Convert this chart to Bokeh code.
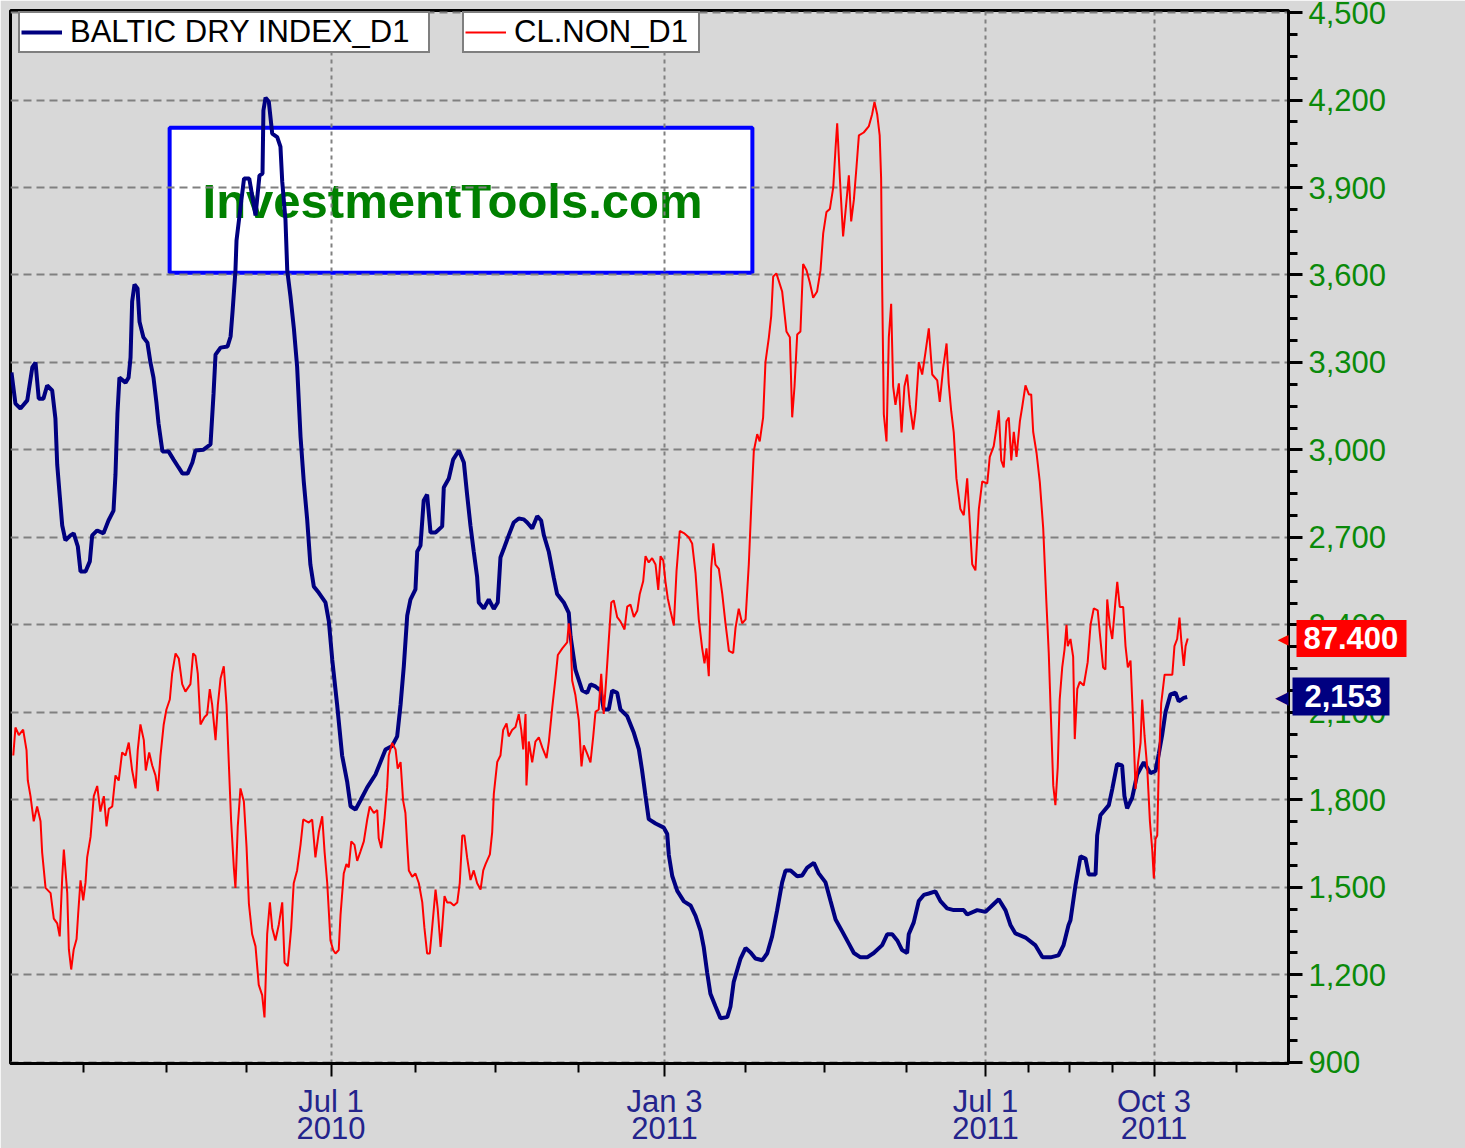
import pandas as pd
from bokeh.plotting import figure
from bokeh.models import (Range1d, FixedTicker, Label, Legend, LegendItem, LinearAxis,
                          NumeralTickFormatter)
from bokeh.core.properties import value
from bokeh.embed import file_html
from bokeh.resources import INLINE

EPOCH = pd.Timestamp("2010-01-01")   # day numbers below count from this date

# ---- Baltic Dry Index (days since 2010-01-01, index points)
bdi_day = [
    2.8, 5.0, 7.8, 11.6, 14.4, 16.2, 18.0, 20.6, 22.7, 25.5,
    27.3, 28.3, 29.7, 31.1, 32.9, 35.7, 37.5, 39.8, 41.3, 44.1,
    46.5, 47.8, 50.6, 54.1, 56.9, 59.7, 60.8, 61.9, 63.0, 66.4,
    68.1, 69.2, 70.1, 71.4, 73.1, 74.2, 76.4, 78.6, 80.3, 82.0,
    83.7, 84.8, 87.0, 90.4, 93.2, 96.0, 98.2, 101.0, 103.7, 105.4,
    109.9, 113.8, 115.5, 116.6, 119.4, 123.3, 125.0, 126.1, 127.7, 128.3,
    130.5, 132.5, 135.4, 138.9, 141.1, 142.8, 143.3, 144.5, 146.3, 148.2,
    151.0, 152.8, 153.8, 155.6, 156.6, 158.4, 160.3, 162.1, 164.0, 165.8,
    167.7, 169.5, 171.4, 174.2, 177.9, 179.8, 181.7, 184.4, 187.2, 190.0,
    191.9, 194.7, 197.4, 201.2, 205.8, 208.6, 211.4, 215.1, 217.9, 219.8,
    221.6, 223.5, 225.3, 228.1, 229.1, 230.9, 232.7, 234.6, 236.5, 239.3,
    243.0, 243.9, 246.7, 249.1, 252.3, 255.1, 256.9, 258.8, 260.6, 262.5,
    263.4, 266.2, 269.0, 271.8, 274.0, 275.5, 277.4, 280.1, 282.9, 285.7,
    288.5, 290.4, 293.2, 296.0, 298.2, 299.7, 302.5, 305.2, 307.1, 310.8,
    313.6, 314.6, 317.3, 321.1, 323.9, 325.7, 328.5, 331.3, 333.1, 335.9,
    337.8, 340.6, 342.4, 346.2, 349.9, 352.7, 354.5, 356.4, 358.2, 362.0,
    366.6, 368.5, 369.4, 371.3, 374.1, 377.8, 381.5, 384.3, 387.1, 388.9,
    390.8, 392.6, 395.4, 398.2, 402.0, 403.8, 405.6, 409.4, 412.2, 415.0,
    417.7, 421.5, 424.3, 427.0, 429.8, 432.6, 434.5, 437.3, 441.0, 443.8,
    446.6, 450.3, 453.0, 456.8, 459.6, 462.4, 466.1, 469.8, 472.6, 476.3,
    480.0, 483.7, 488.4, 491.2, 494.0, 496.8, 499.5, 502.3, 503.2, 506.0,
    508.8, 511.6, 514.4, 518.1, 520.9, 524.6, 528.3, 533.9, 535.8, 541.4,
    546.0, 550.6, 553.4, 557.2, 560.0, 562.7, 568.3, 573.9, 577.8, 582.3,
    586.7, 589.5, 592.3, 593.4, 596.2, 599.0, 601.8, 603.6, 607.4, 608.3,
    610.1, 614.8, 616.7, 619.4, 622.2, 623.5, 625.0, 627.8, 630.6, 634.3,
    638.0, 640.8, 642.7, 644.5, 646.4, 649.2, 652.0, 653.8, 656.6, 658.5,
]
bdi_value = [
    3266, 3159, 3142, 3170, 3283, 3300, 3176, 3176, 3221, 3204,
    3108, 2950, 2844, 2741, 2690, 2707, 2714, 2669, 2583, 2583,
    2618, 2707, 2724, 2714, 2758, 2792, 2916, 3125, 3248, 3231,
    3248, 3317, 3509, 3567, 3554, 3440, 3386, 3368, 3300, 3248,
    3159, 3091, 2995, 2995, 2967, 2940, 2919, 2919, 2957, 2998,
    3001, 3019, 3194, 3327, 3351, 3355, 3389, 3475, 3615, 3718,
    3831, 3931, 3931, 3804, 3941, 3948, 4164, 4208, 4195, 4085,
    4073, 4040, 3920, 3790, 3615, 3526, 3416, 3286, 3046, 2892,
    2762, 2607, 2532, 2510, 2477, 2412, 2280, 2127, 1952, 1863,
    1778, 1767, 1798, 1843, 1887, 1930, 1973, 1985, 2018, 2127,
    2258, 2432, 2487, 2522, 2652, 2672, 2827, 2847, 2717, 2717,
    2738, 2871, 2902, 2967, 2998, 2957, 2847, 2739, 2652, 2564,
    2477, 2456, 2487, 2455, 2477, 2631, 2662, 2707, 2751, 2765,
    2762, 2751, 2731, 2773, 2758, 2708, 2650, 2563, 2506, 2477,
    2441, 2361, 2247, 2175, 2167, 2196, 2189, 2175, 2110, 2110,
    2175, 2167, 2110, 2087, 2030, 1973, 1901, 1813, 1734, 1719,
    1705, 1683, 1611, 1539, 1488, 1452, 1438, 1402, 1351, 1294,
    1207, 1135, 1092, 1051, 1055, 1092, 1176, 1256, 1292, 1277,
    1256, 1250, 1274, 1332, 1421, 1517, 1558, 1558, 1538, 1541,
    1568, 1584, 1548, 1517, 1453, 1390, 1349, 1307, 1275, 1260,
    1260, 1275, 1302, 1339, 1339, 1318, 1285, 1275, 1339, 1380,
    1453, 1474, 1479, 1486, 1453, 1428, 1422, 1422, 1407, 1422,
    1416, 1443, 1459, 1421, 1370, 1342, 1328, 1301, 1260, 1260,
    1267, 1301, 1370, 1387, 1507, 1606, 1599, 1544, 1544, 1678,
    1747, 1782, 1837, 1923, 1918, 1813, 1771, 1807, 1887, 1929,
    1892, 1899, 1959, 2021, 2101, 2162, 2168, 2138, 2150, 2153,
]

# ---- Crude oil CL.NON (days since 2010-01-01, USD per barrel)
oil_day = [
    3.8, 5.0, 6.9, 9.3, 11.2, 11.9, 13.4, 15.2, 17.1, 19.0,
    19.9, 21.8, 24.6, 26.4, 28.3, 29.7, 31.1, 32.0, 33.9, 34.8,
    36.1, 37.5, 39.1, 40.0, 41.3, 42.8, 44.1, 45.0, 46.9, 48.7,
    50.6, 52.4, 54.3, 55.8, 57.1, 59.0, 60.8, 62.6, 64.5, 66.4,
    68.2, 70.1, 72.0, 73.2, 74.7, 76.6, 77.7, 79.6, 81.3, 83.1,
    84.4, 85.9, 87.7, 89.2, 91.1, 92.4, 94.3, 96.1, 98.0, 99.8,
    102.6, 104.1, 105.4, 106.7, 108.2, 110.4, 111.9, 113.4, 114.7, 116.6,
    117.9, 119.4, 121.2, 122.7, 124.0, 125.3, 126.8, 127.7, 129.0, 130.5,
    132.4, 133.9, 135.2, 137.0, 138.9, 140.7, 142.6, 143.9, 145.4, 146.9,
    148.2, 150.0, 151.9, 153.8, 155.1, 156.9, 158.8, 160.2, 162.1, 164.0,
    165.5, 168.6, 170.5, 172.3, 174.2, 176.1, 177.4, 178.9, 180.7, 182.2,
    183.5, 185.3, 186.3, 188.1, 189.6, 190.9, 192.3, 194.1, 195.6, 197.4,
    199.3, 201.2, 202.6, 204.9, 206.8, 207.6, 209.0, 210.8, 212.3, 213.2,
    215.1, 217.0, 218.2, 219.8, 221.2, 222.5, 223.5, 224.4, 226.3, 228.1,
    230.0, 231.9, 233.1, 234.6, 236.1, 237.4, 239.3, 240.5, 242.1, 243.0,
    244.3, 245.8, 247.6, 249.5, 251.4, 252.8, 254.2, 255.4, 256.9, 258.8,
    260.6, 262.5, 264.4, 265.9, 267.2, 269.6, 270.9, 271.8, 273.7, 275.5,
    277.0, 278.9, 280.1, 282.0, 283.9, 285.7, 287.1, 288.2, 289.5, 290.0,
    291.3, 293.2, 295.0, 296.9, 298.8, 301.2, 302.5, 304.4, 306.2, 307.5,
    310.0, 312.7, 313.6, 314.6, 315.5, 317.3, 319.2, 320.7, 322.0, 323.9,
    325.7, 327.2, 328.5, 330.3, 331.7, 333.1, 334.6, 335.9, 337.3, 338.7,
    340.6, 342.4, 344.7, 346.2, 348.0, 349.9, 351.8, 353.2, 355.1, 356.4,
    358.2, 360.1, 362.0, 363.5, 364.8, 366.3, 367.5, 368.8, 370.3, 372.2,
    373.7, 375.5, 377.8, 380.5, 382.4, 384.3, 386.1, 388.0, 389.3, 390.4,
    391.7, 393.0, 394.2, 395.4, 397.3, 399.2, 401.0, 402.9, 405.3, 406.6,
    408.4, 410.3, 412.2, 414.0, 415.5, 416.8, 418.7, 420.1, 422.0, 423.3,
    425.2, 426.5, 427.6, 429.4, 432.6, 435.0, 436.9, 438.2, 439.5, 441.0,
    442.8, 444.3, 446.2, 448.0, 449.9, 452.1, 454.0, 455.5, 457.3, 459.2,
    461.1, 462.4, 463.3, 464.8, 466.6, 467.9, 469.8, 471.1, 472.6, 474.1,
    475.4, 478.1, 480.9, 482.8, 484.1, 485.6, 487.0, 487.8, 488.4, 489.3,
    490.8, 492.1, 493.4, 494.5, 495.8, 497.7, 499.2, 500.8, 502.3, 503.8,
    505.7, 507.0, 508.8, 510.7, 512.5, 514.4, 516.3, 519.1, 520.5, 522.4,
    524.3, 525.5, 526.9, 528.3, 529.8, 532.0, 533.9, 535.8, 537.2, 538.6,
    540.4, 542.3, 544.2, 547.0, 548.4, 550.6, 552.1, 553.4, 554.8, 556.2,
    557.7, 559.0, 560.4, 561.8, 563.3, 565.2, 566.5, 568.3, 570.2, 571.5,
    572.6, 574.5, 576.3, 578.2, 580.0, 581.3, 582.3, 583.8, 585.0, 586.3,
    587.4, 588.8, 590.1, 591.2, 591.9, 593.4, 594.9, 595.8, 597.2, 598.6,
    600.8, 603.0, 604.6, 606.4, 608.6, 609.7, 611.6, 612.9, 613.9, 615.3,
    616.7, 618.5, 619.5, 620.9, 622.8, 624.1, 625.4, 626.9, 628.4, 629.7,
    631.0, 632.5, 633.4, 634.7, 636.2, 637.7, 639.0, 639.9, 640.8, 641.8,
    642.7, 644.0, 645.9, 647.7, 650.2, 651.4, 652.9, 654.2, 655.3, 656.6,
    657.6, 658.8,
]
oil_value = [
    81.63, 83.01, 82.64, 82.91, 81.88, 80.40, 79.63, 78.39, 79.12, 78.39,
    76.86, 75.11, 74.85, 73.60, 73.36, 72.72, 75.63, 77.00, 74.85, 72.08,
    71.09, 72.08, 72.59, 73.85, 75.48, 74.49, 75.38, 76.61, 77.62, 79.63,
    80.13, 78.87, 79.63, 78.14, 79.00, 79.12, 80.65, 80.40, 81.78, 81.63,
    82.27, 80.89, 80.01, 81.88, 83.16, 82.39, 80.89, 81.78, 81.14, 80.65,
    79.88, 81.63, 83.16, 83.90, 84.39, 85.67, 86.66, 86.41, 85.15, 84.78,
    85.15, 86.66, 86.54, 85.67, 83.16, 83.52, 83.65, 84.90, 84.14, 82.39,
    84.14, 85.42, 86.03, 84.14, 81.26, 78.39, 76.12, 75.11, 78.14, 80.01,
    79.37, 77.12, 74.34, 72.84, 72.23, 70.33, 69.83, 68.73, 72.84, 74.40,
    73.14, 72.52, 73.31, 74.40, 71.42, 71.26, 73.14, 75.34, 75.97, 77.23,
    78.48, 78.33, 78.48, 76.61, 77.86, 78.64, 76.90, 75.34, 72.52, 72.05,
    71.88, 72.05, 73.77, 75.82, 76.28, 76.12, 77.40, 77.23, 76.44, 76.90,
    77.40, 78.48, 79.12, 78.80, 78.95, 77.55, 77.07, 78.48, 80.06, 81.63,
    82.25, 81.93, 80.99, 81.31, 79.42, 78.80, 77.23, 75.97, 75.66, 75.82,
    75.34, 74.40, 73.14, 71.88, 71.88, 73.14, 75.03, 74.09, 72.20, 73.14,
    74.71, 74.39, 74.39, 74.24, 74.39, 75.34, 77.69, 77.69, 76.61, 75.50,
    75.97, 75.34, 75.03, 75.97, 76.28, 76.76, 77.86, 79.74, 81.31, 81.63,
    82.89, 83.21, 82.57, 82.89, 83.04, 83.67, 82.89, 81.93, 83.67, 80.16,
    82.32, 81.29, 82.32, 82.53, 82.03, 81.50, 82.32, 84.00, 85.44, 86.58,
    86.91, 87.20, 88.14, 87.51, 85.33, 84.61, 83.36, 81.09, 82.13, 81.71,
    81.29, 82.53, 83.78, 83.90, 85.65, 83.68, 85.54, 87.30, 89.17, 89.27,
    88.45, 88.24, 87.84, 88.97, 89.07, 88.45, 88.76, 89.59, 90.21, 91.45,
    91.14, 91.35, 91.04, 89.79, 91.45, 91.24, 90.21, 89.38, 88.76, 88.04,
    90.72, 92.69, 92.59, 92.38, 92.08, 90.62, 88.34, 86.91, 86.17, 86.91,
    85.54, 90.83, 92.08, 91.04, 90.83, 89.59, 88.14, 86.79, 86.68, 87.92,
    88.86, 88.14, 88.34, 91.04, 94.15, 96.63, 97.46, 97.10, 98.29, 101.01,
    102.23, 103.27, 105.23, 105.38, 104.49, 102.52, 102.23, 98.29, 99.81, 102.37,
    102.52, 105.84, 105.54, 104.94, 104.18, 104.49, 105.54, 107.35, 108.40, 108.55,
    109.62, 111.57, 112.77, 110.06, 107.20, 108.40, 110.21, 107.94, 109.00, 110.66,
    112.18, 112.32, 112.62, 113.22, 113.83, 113.22, 112.18, 110.06, 104.64, 98.45,
    97.10, 102.23, 103.88, 99.81, 98.90, 99.96, 97.55, 99.81, 100.40, 98.90,
    97.69, 98.59, 101.01, 100.40, 101.46, 102.67, 100.40, 100.11, 99.05, 100.71,
    101.93, 99.96, 98.59, 97.55, 95.28, 93.77, 93.47, 95.28, 93.16, 91.05,
    90.75, 93.77, 95.13, 95.03, 96.34, 96.87, 97.74, 98.63, 96.17, 95.82,
    98.10, 98.28, 96.17, 97.58, 96.34, 98.10, 98.81, 99.86, 99.42, 99.42,
    97.58, 96.52, 95.11, 92.82, 89.13, 86.66, 84.03, 80.16, 79.19, 81.04,
    84.39, 85.97, 86.86, 88.07, 87.02, 87.37, 86.49, 82.44, 84.91, 85.26,
    85.08, 86.23, 88.07, 88.88, 88.78, 87.72, 85.97, 85.87, 89.32, 88.07,
    87.37, 89.22, 90.19, 88.95, 88.95, 87.02, 85.97, 86.31, 83.16, 79.98,
    81.21, 82.27, 84.39, 82.62, 81.04, 78.40, 76.99, 75.58, 77.52, 77.69,
    81.21, 84.20, 85.61, 85.61, 85.61, 87.02, 87.37, 88.43, 87.20, 86.05,
    87.02, 87.40,
]
assert len(bdi_day) == len(bdi_value), (len(bdi_day), len(bdi_value))
assert len(oil_day) == len(oil_value), (len(oil_day), len(oil_value))

# ---- axes
x_view = ["2010-01-03 06:00", "2011-12-17 00:00"]
bdi_view = (896, 4507)
oil_view = (66.46, 118.33)
major_dates = ["2010-07-01", "2011-01-03", "2011-07-01", "2011-10-03"]
major_md = ["Jul 1", "Jan 3", "Jul 1", "Oct 3"]
major_year = ["2010", "2011", "2011", "2011"]
minor_dates = ["2010-02-13", "2010-03-31", "2010-05-15", "2010-08-17", "2010-10-01",
               "2010-11-16", "2011-02-17", "2011-04-02", "2011-05-18", "2011-07-25",
               "2011-08-17", "2011-09-10", "2011-11-18"]
bdi_ticks = list(range(900, 4501, 300))
bdi_minor = list(range(900, 4501, 75))
last_oil_label = "87.400"
last_bdi_label = "2,153 "

# watermark box (decoration)
wm_box = {"left": "2010-04-02", "right": "2011-02-21", "top": 4105, "bottom": 3608}
wm_text_at = ("2010-09-06 19:00", 3855)

BG = "#d8d8d8"
NAVY = "#000080"
RED = "#ff0000"
GREEN = "#0a8a0a"
DATE_COLOR = "#24248c"
FONT = "Liberation Sans"
FS = "31px"


def to_ms(dates):
    return [pd.Timestamp(d).value / 1e6 for d in dates]


def days_to_dt(days):
    return [EPOCH + pd.Timedelta(days=d) for d in days]


xs = to_ms(x_view)
p = figure(width=1465, height=1148, x_axis_type="datetime", title=None,
           x_range=Range1d(xs[0], xs[1]), y_range=Range1d(*bdi_view),
           y_axis_location="right", output_backend="svg", toolbar_location=None,
           min_border_left=10, min_border_top=10, min_border_right=177, min_border_bottom=85)
p.extra_y_ranges = {"oil": Range1d(*oil_view)}
p.background_fill_color = BG
p.border_fill_color = BG
p.outline_line_color = "black"
p.outline_line_width = 3

# grid
p.ygrid.grid_line_color = "#808080"
p.ygrid.grid_line_dash = "8 5"
p.ygrid.grid_line_width = 2
p.xgrid.grid_line_color = "#808080"
p.xgrid.grid_line_dash = "4 4"
p.xgrid.grid_line_width = 2

# right axis
ya = p.yaxis[0]
ya.ticker = FixedTicker(ticks=bdi_ticks, minor_ticks=bdi_minor)
ya.formatter = NumeralTickFormatter(format="0,0")
ya.axis_line_width = 3
ya.axis_line_color = "black"
ya.major_tick_line_width = 3
ya.minor_tick_line_width = 3
ya.major_tick_in = 0
ya.minor_tick_in = 0
ya.major_tick_out = 14
ya.minor_tick_out = 9
ya.major_label_standoff = 6
ya.major_label_text_color = GREEN
ya.major_label_text_font = FONT
ya.major_label_text_font_size = FS

# bottom axis: month/day line
xa = p.xaxis[0]
major_ms = to_ms(major_dates)
xa.ticker = FixedTicker(ticks=major_ms, minor_ticks=to_ms(minor_dates))
xa.major_label_overrides = {m: t for m, t in zip(major_ms, major_md)}
xa.axis_line_width = 3
xa.axis_line_color = "black"
xa.major_tick_line_width = 2
xa.minor_tick_line_width = 2
xa.major_tick_in = 0
xa.minor_tick_in = 0
xa.major_tick_out = 13
xa.minor_tick_out = 9
xa.major_label_standoff = 7
xa.major_label_text_color = DATE_COLOR
xa.major_label_text_font = FONT
xa.major_label_text_font_size = FS

# bottom axis: year line
year_axis = LinearAxis(ticker=FixedTicker(ticks=major_ms, minor_ticks=[]),
                       major_label_overrides={m: t for m, t in zip(major_ms, major_year)},
                       axis_line_color=None, major_tick_line_color=None,
                       minor_tick_line_color=None, major_tick_in=0, major_tick_out=0,
                       minor_tick_in=0, minor_tick_out=0, major_label_standoff=-5,
                       major_label_text_color=DATE_COLOR, major_label_text_font=FONT,
                       major_label_text_font_size=FS)
p.add_layout(year_axis, "below")

# watermark (below grid and lines)
p.quad(left=to_ms([wm_box["left"]]), right=to_ms([wm_box["right"]]),
       top=[wm_box["top"]], bottom=[wm_box["bottom"]],
       fill_color="white", line_color="#0000ff", line_width=4, level="image")
p.text(x=to_ms([wm_text_at[0]]), y=[wm_text_at[1]], text=["InvestmentTools.com"],
       text_font=value(FONT), text_font_style="bold", text_font_size="49px",
       text_color="#008000", text_align="center", text_baseline="middle", level="image")

# series
r_bdi = p.line(days_to_dt(bdi_day), bdi_value, color=NAVY, line_width=4)
r_oil = p.line(days_to_dt(oil_day), oil_value, color=RED, line_width=2, y_range_name="oil")

# legends (two separate boxes)
for item_label, rend, loc in [("BALTIC DRY INDEX_D1  ", r_bdi, (8, 1010)),
                              ("CL.NON_D1 ", r_oil, (452, 1010))]:
    leg = Legend(items=[LegendItem(label=item_label, renderers=[rend])], location=loc,
                 border_line_color="black", border_line_width=2,
                 background_fill_color="white", background_fill_alpha=1.0,
                 label_text_font=FONT, label_text_font_size=FS, label_text_color="black",
                 padding=1, margin=0, glyph_width=41, glyph_height=24, label_standoff=8,
                 spacing=0, label_height=30)
    p.add_layout(leg)


# last-value tags on the right: extra axes whose single thick tick forms the box
def tag_axis(val, text, color, tick_in, tick_out, standoff, box_h, range_name="default"):
    return LinearAxis(y_range_name=range_name,
                      ticker=FixedTicker(ticks=[val], minor_ticks=[]),
                      major_label_overrides={val: text}, axis_line_color=None,
                      major_tick_line_color=color, major_tick_line_width=box_h,
                      major_tick_line_cap="butt", minor_tick_line_color=None,
                      major_tick_in=tick_in, major_tick_out=tick_out,
                      minor_tick_in=0, minor_tick_out=0,
                      major_label_standoff=standoff, major_label_text_font=FONT,
                      major_label_text_font_style="bold", major_label_text_font_size=FS,
                      major_label_text_color="white")


p.add_layout(tag_axis(bdi_value[-1], last_bdi_label, NAVY, 97, 0, -85, 38), "right")
p.add_layout(tag_axis(oil_value[-1], last_oil_label, RED, 97, 13, -103, 37, "oil"), "right")

p.add_layout(Label(x=1281, y=float(oil_value[-1]), x_units="screen", y_range_name="oil",
                   text="\u25c0", text_align="right", text_baseline="middle",
                   text_color=RED, text_font="DejaVu Sans", text_font_size="18px"))
p.add_layout(Label(x=1280, y=float(bdi_value[-1]), x_units="screen",
                   text="\u25c0", text_align="right", text_baseline="middle",
                   text_color=NAVY, text_font="DejaVu Sans", text_font_size="20px"))

html = file_html(p, INLINE)
html = html.replace("<body>", '<body style="background-color:%s;">' % BG, 1)
open("out.html", "w").write(html)
